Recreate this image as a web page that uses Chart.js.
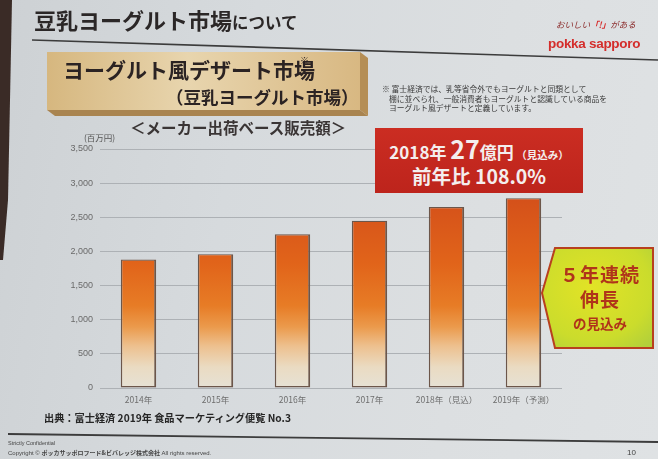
<!DOCTYPE html>
<html lang="ja">
<head>
<meta charset="utf-8">
<script src="https://cdn.jsdelivr.net/npm/chart.js@4/dist/chart.umd.min.js"></script>
<style>
  html,body{margin:0;padding:0;}
  body{width:658px;height:459px;position:relative;overflow:hidden;
    background:linear-gradient(100deg,#cdd1d4 0%,#d6dadd 35%,#dcdfe1 70%,#dfe2e4 100%);
    font-family:"Noto Sans CJK JP","Noto Sans",sans-serif;}
  .abs{position:absolute;white-space:nowrap;}
  #chart{position:absolute;left:0;top:0;}
</style>
</head>
<body>
<script>
// ---- data ----
const categories = ['2014年', '2015年', '2016年', '2017年', '2018年（見込）', '2019年（予測）'];
const salesValues = [1880, 1960, 2250, 2450, 2650, 2780]; // 百万円
const yMin = 0;
const yMax = 3500;
const yStep = 500;
const unitLabel = '(百万円)';
</script>

<svg class="abs" style="left:0;top:0" width="658" height="459">
  <defs>
    <linearGradient id="beige" x1="0" y1="0" x2="1" y2="0">
      <stop offset="0" stop-color="#d6b77f"/>
      <stop offset="0.45" stop-color="#e8d5ae"/>
      <stop offset="1" stop-color="#d8b882"/>
    </linearGradient>
    <radialGradient id="green" cx="0.45" cy="0.4" r="0.75">
      <stop offset="0" stop-color="#e2e326"/>
      <stop offset="0.7" stop-color="#cbdc2c"/>
      <stop offset="1" stop-color="#b3d03a"/>
    </radialGradient>
  </defs>
  <polygon points="0,0 12,0 8,200 3,260 0,260" fill="#3a2b26"/>
  <line x1="32" y1="40" x2="658" y2="60" stroke="#3c3c3c" stroke-width="1.6"/>
  <!-- beige 3D box -->
  <polygon points="360,52 368,58 368,116 360,110" fill="#b58e55"/>
  <polygon points="47,110 360,110 368,116 55,116" fill="#a98450"/>
  <rect x="47" y="52" width="313" height="58" fill="url(#beige)"/>
  <!-- footer line -->
  <line x1="8" y1="434" x2="658" y2="442" stroke="#3c3c3c" stroke-width="1.8"/>
</svg>

<canvas id="chart" width="658" height="459"></canvas>

<!-- title -->
<div class="abs" style="left:34px;top:5px;font-weight:bold;font-size:22px;line-height:28px;color:#2b2727;">豆乳ヨーグルト市場<span style="font-size:16.5px;">について</span></div>

<!-- logo -->
<div class="abs" style="left:556px;top:18px;font-size:8.5px;color:#8a2a2a;font-style:italic;">おいしい<span style="color:#d62b2b;font-weight:bold;">「!」</span>がある</div>
<div class="abs" style="left:548px;top:36px;font-family:'Liberation Sans',sans-serif;font-weight:bold;font-size:13.5px;color:#d42d2b;letter-spacing:-0.3px;">pokka sapporo</div>

<!-- beige box text -->
<div class="abs" style="left:63px;top:57px;font-weight:bold;font-size:21px;line-height:24px;color:#2b2323;">ヨーグルト風デザート市場</div>
<div class="abs" style="left:300px;top:56px;font-size:9px;line-height:10px;color:#2b2323;">※</div>
<div class="abs" style="left:166px;top:86px;font-weight:bold;font-size:17.5px;line-height:22px;color:#2b2323;">（豆乳ヨーグルト市場）</div>

<!-- note -->
<div class="abs" style="left:382px;top:84px;font-size:7.8px;line-height:9.6px;color:#3a3a3a;">※ 富士経済では、乳等省令外でもヨーグルトと同類として<br>&nbsp;&nbsp;&nbsp;&nbsp;棚に並べられ、一般消費者もヨーグルトと認識している商品を<br>&nbsp;&nbsp;&nbsp;&nbsp;ヨーグルト風デザートと定義しています。</div>

<!-- subtitle -->
<div class="abs" style="left:130px;top:116px;font-weight:bold;font-size:15.5px;line-height:22px;color:#3a3535;">＜メーカー出荷ベース販売額＞</div>
<div class="abs" id="unit" style="left:84px;top:131px;font-size:8.5px;color:#555;"></div>

<!-- red box -->
<div class="abs" style="left:375px;top:128px;width:208px;height:65px;background:linear-gradient(180deg,#cb2d22,#bd241c);color:#f4eeee;font-weight:bold;text-align:center;">
  <div style="position:absolute;left:0;right:0;top:7px;line-height:26px;"><span style="font-size:17px;">2018年 </span><span style="font-size:25px;">27</span><span style="font-size:17px;">億円</span><span style="font-size:10.5px;"> （見込み）</span></div>
  <div style="position:absolute;left:0;right:0;top:35px;line-height:26px;font-size:19.5px;">前年比 108.0%</div>
</div>

<!-- green arrow box -->
<svg class="abs" style="left:0;top:0" width="658" height="459">
  <polygon points="542,293 555,248 653,248 653,348 555,348" fill="url(#green)" stroke="#b8401e" stroke-width="2"/>
</svg>
<div class="abs" style="left:545px;top:261px;width:110px;text-align:center;color:#b0341a;font-weight:bold;">
  <div style="font-size:19px;line-height:25px;letter-spacing:1px;">５年連続</div>
  <div style="font-size:19px;line-height:25px;letter-spacing:1px;">伸長</div>
  <div style="font-size:13.5px;line-height:20px;margin-top:2px;">の見込み</div>
</div>

<!-- source -->
<div class="abs" style="left:44px;top:411px;font-weight:bold;font-size:10.2px;line-height:14px;color:#262626;">出典：富士経済 2019年 食品マーケティング便覧 No.3</div>

<!-- footer -->
<div class="abs" style="left:8px;top:440px;font-family:'Liberation Sans',sans-serif;font-size:5.5px;color:#444;">Strictly Confidential</div>
<div class="abs" style="left:8px;top:449px;font-size:6px;line-height:8px;color:#444;"><span style="font-family:'Liberation Sans',sans-serif;">Copyright © </span><b>ポッカサッポロフード&amp;ビバレッジ株式会社</b><span style="font-family:'Liberation Sans',sans-serif;"> All rights reserved.</span></div>
<div class="abs" style="left:627px;top:448px;font-family:'Liberation Sans',sans-serif;font-size:8px;color:#444;">10</div>

<script>
document.getElementById('unit').textContent = unitLabel;

function barGradient(context) {
  const chart = context.chart;
  const area = chart.chartArea;
  const ys = chart.scales.y;
  if (!area || !ys) return '#e2671c';
  const y0 = ys.getPixelForValue(0);
  const yT = ys.getPixelForValue(2800);
  const g = chart.ctx.createLinearGradient(0, y0, 0, yT);
  g.addColorStop(0, '#e6e1d5');
  g.addColorStop(0.11, '#eadbc2');
  g.addColorStop(0.22, '#edc08e');
  g.addColorStop(0.32, '#eb9a4c');
  g.addColorStop(0.43, '#e77c26');
  g.addColorStop(0.65, '#e1641a');
  g.addColorStop(1, '#d4501a');
  return g;
}

new Chart(document.getElementById('chart'), {
  type: 'bar',
  data: {
    labels: categories,
    datasets: [{
      data: salesValues,
      backgroundColor: barGradient,
      borderColor: '#6c564a',
      borderWidth: {left: 1.5, right: 2, top: 1.2, bottom: 1.5},
      borderSkipped: false,
      categoryPercentage: 1,
      barPercentage: 0.46
    }]
  },
  options: {
    responsive: false,
    animation: false,
    layout: {padding: {left: 0, top: 149, right: 96, bottom: 41}},
    plugins: {legend: {display: false}, tooltip: {enabled: false}},
    scales: {
      x: {
        grid: {display: false, drawTicks: false},
        border: {display: false},
        ticks: {color: '#6e6e6e', padding: 7, font: {family: "'Noto Sans CJK JP'", size: 8.5}},
        afterFit: s => { s.height = 30; }
      },
      y: {
        min: yMin,
        max: yMax,
        grid: {color: '#adb1b5', lineWidth: 1, drawTicks: false},
        border: {display: false},
        ticks: {
          stepSize: yStep,
          color: '#6a6a6a',
          padding: 7,
          font: {family: "'Liberation Sans'", size: 9},
          callback: v => v.toLocaleString('en-US')
        },
        afterFit: s => { s.width = 100; }
      }
    }
  }
});
</script>
</body>
</html>
